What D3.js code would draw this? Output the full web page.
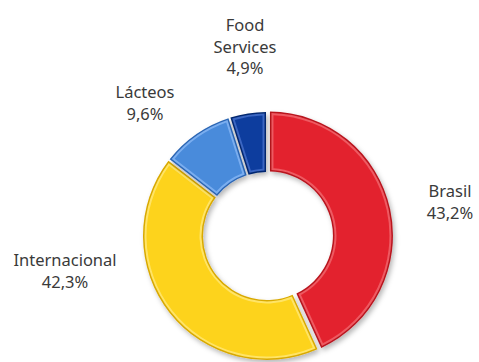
<!DOCTYPE html>
<html>
<head>
<meta charset="utf-8">
<script src="https://cdn.jsdelivr.net/npm/d3@7"></script>
<style>
  html, body { margin: 0; padding: 0; background: #fff; }
  svg { display: block; }
  text { font-family: "Noto Sans", "Open Sans", sans-serif; fill: #3a3a3a; }
</style>
</head>
<body>
<svg id="chart" width="479" height="362"></svg>
<script>
// Revenue split by business segment
const categories = ["Brasil", "Internacional", "Lácteos", "Food Services"];
const shares = [43.2, 42.3, 9.6, 4.9];
const nameLines = [["Brasil"], ["Internacional"], ["Lácteos"], ["Food", "Services"]];

// face / edge / highlight colours per segment
const faceColors = ["#e3242f", "#fdd31c", "#4a8bdb", "#0d3c9e"];
const edgeColors = ["#b8141e", "#d9a900", "#2c66b4", "#06286f"];
const lightColors = ["#ee5a62", "#ffe466", "#7aaef0", "#3a66c2"];

const W = 479, H = 362;
const cx = 267, cy = 236;
const rOuter = 124, rInner = 64;
const gap = 2;         // white seam between segments
const explode = [2, 0, 0, 0];

// label anchor points (centre of first line), relative to the ring centre
const labelAt = [
  { dx: 183, dy: -39 },
  { dx: -202, dy: 30 },
  { dx: -122, dy: -138 },
  { dx: -22, dy: -205 }
];
const lineH = 21.5;

const fmt = d3.formatLocale({ decimal: ",", thousands: ".", grouping: [3], currency: ["", ""] }).format(".1f");

const svg = d3.select("#chart");
const defs = svg.append("defs");
const shadow = defs.append("filter").attr("id", "shadow")
  .attr("x", "-20%").attr("y", "-20%").attr("width", "140%").attr("height", "140%");
shadow.append("feDropShadow")
  .attr("dx", 2).attr("dy", 3).attr("stdDeviation", 2.5)
  .attr("flood-color", "#000").attr("flood-opacity", 0.28);

const pie = d3.pie().sort(null).value(d => d).startAngle(0).endAngle(2 * Math.PI);
const arcs = pie(shares);

// inset arc generator: k pixels in from every edge of the segment
const inset = k => d3.arc()
  .innerRadius(rInner + k)
  .outerRadius(rOuter - k)
  .padRadius(rOuter)
  .padAngle((gap + 2 * k) / rOuter);

const ring = svg.append("g").attr("transform", `translate(${cx},${cy})`);

const seg = ring.selectAll("g.seg")
  .data(arcs)
  .join("g")
  .attr("class", "seg")
  .attr("filter", "url(#shadow)")
  .attr("transform", (d, i) => {
    const a = (d.startAngle + d.endAngle) / 2;
    return `translate(${explode[i] * Math.sin(a)},${-explode[i] * Math.cos(a)})`;
  });

// bevelled look: dark rim, light bevel band, flat face
seg.append("path").attr("d", inset(0)).attr("fill", (d, i) => edgeColors[i]);
seg.append("path").attr("d", inset(1.5)).attr("fill", (d, i) => lightColors[i]);
seg.append("path").attr("d", inset(3.5)).attr("fill", (d, i) => faceColors[i]);

// labels
const labels = svg.append("g").selectAll("text")
  .data(arcs)
  .join("text")
  .attr("text-anchor", "middle")
  .attr("font-size", 16.5)
  .attr("x", (d, i) => cx + labelAt[i].dx)
  .attr("y", (d, i) => cy + labelAt[i].dy);

labels.each(function(d, i) {
  const t = d3.select(this);
  const lines = nameLines[i].concat([fmt(shares[i]) + "%"]);
  lines.forEach((s, j) => {
    t.append("tspan")
      .attr("x", cx + labelAt[i].dx)
      .attr("dy", j === 0 ? 0 : lineH)
      .text(s);
  });
});
</script>
</body>
</html>
